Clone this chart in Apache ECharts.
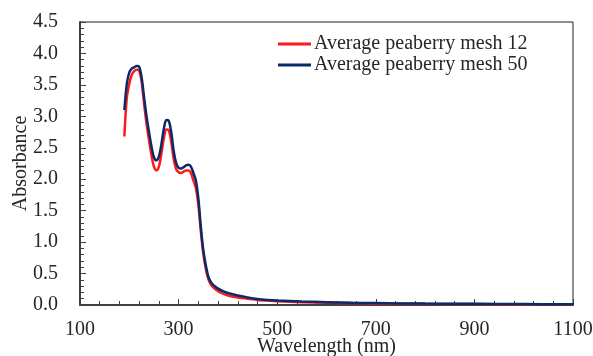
<!DOCTYPE html>
<html>
<head>
<meta charset="utf-8">
<script src="https://cdn.jsdelivr.net/npm/echarts@6/dist/echarts.min.js"></script>
<style>
  html, body { margin: 0; padding: 0; background: #fff; }
  #chart { width: 593px; height: 356px; }
</style>
</head>
<body>
<div id="chart"></div>
<script>
// wavelengths (nm)
var wavelength = [190,195,200,205,210,215,220,225,230,235,240,245,250,255,260,265,270,275,280,285,290,295,300,305,310,315,320,325,330,335,340,345,350,355,360,365,370,380,390,400,420,440,460,480,500,550,600,650,700,800,900,1000,1100];

// absorbance, mesh 12 (red)
var mesh12 = [2.68,3.30,3.52,3.66,3.72,3.74,3.73,3.55,3.20,2.88,2.62,2.38,2.20,2.14,2.20,2.40,2.65,2.79,2.78,2.60,2.32,2.16,2.11,2.10,2.12,2.14,2.14,2.10,1.98,1.86,1.60,1.18,0.82,0.58,0.42,0.33,0.28,0.22,0.18,0.15,0.12,0.10,0.08,0.07,0.06,0.045,0.035,0.03,0.025,0.018,0.014,0.011,0.009];

// absorbance, mesh 50 (navy)
var mesh50 = [3.10,3.52,3.70,3.76,3.78,3.80,3.79,3.62,3.30,3.00,2.75,2.52,2.35,2.30,2.36,2.55,2.80,2.94,2.93,2.75,2.45,2.26,2.18,2.17,2.19,2.22,2.23,2.20,2.10,1.98,1.70,1.25,0.88,0.64,0.46,0.37,0.32,0.26,0.22,0.19,0.15,0.12,0.095,0.08,0.07,0.055,0.045,0.035,0.03,0.022,0.018,0.014,0.012];

var seriesNames = ['Average peaberry mesh 12', 'Average peaberry mesh 50'];

function pairs(xs, ys) {
    return xs.map(function (x, i) { return [x, ys[i]]; });
}

var font = 'Liberation Serif';
var txt = '#262626';

var myChart = echarts.init(document.getElementById('chart'));

var option = {
    animation: false,
    textStyle: { fontFamily: font },
    grid: {
        left: 80, right: 20, top: 22, bottom: 51,
        containLabel: false,
        outerBoundsMode: 'none',
        show: true, borderColor: '#222', borderWidth: 1
    },
    legend: {
        data: seriesNames,
        orient: 'vertical',
        left: 278, top: 34,
        padding: 0,
        icon: 'rect',
        itemWidth: 33, itemHeight: 3,
        itemGap: 1,
        textStyle: { fontFamily: font, fontSize: 20, color: txt, lineHeight: 20, padding: [0, 0, 0, -2] }
    },
    xAxis: {
        type: 'value',
        min: 100, max: 1100, interval: 200,
        name: 'Wavelength (nm)',
        nameLocation: 'middle',
        nameGap: 32,
        nameMoveOverlap: false,
        nameTextStyle: { fontFamily: font, fontSize: 20, color: txt },
        axisLine: { lineStyle: { color: '#404040', width: 2 } },
        axisTick: { inside: true, length: 6, lineStyle: { color: '#404040' } },
        minorTick: { show: true, splitNumber: 5, length: 4, lineStyle: { color: '#404040' } },
        splitLine: { show: false },
        axisLabel: {
            fontFamily: font, fontSize: 20, color: txt, margin: 15,
            formatter: function (v) { return String(v); }
        }
    },
    yAxis: {
        type: 'value',
        min: 0, max: 4.5, interval: 0.5,
        name: 'Absorbance',
        nameLocation: 'middle',
        nameRotate: 90,
        nameGap: 49,
        nameMoveOverlap: false,
        nameTextStyle: { fontFamily: font, fontSize: 20, color: txt },
        axisLine: { show: true, lineStyle: { color: '#404040', width: 2 } },
        axisTick: { show: true, inside: true, length: 6, lineStyle: { color: '#404040' } },
        minorTick: { show: true, splitNumber: 5, length: 4, lineStyle: { color: '#404040' } },
        splitLine: { show: false },
        axisLabel: {
            fontFamily: font, fontSize: 20, color: txt, margin: 22,
            formatter: function (v) { return v.toFixed(1); }
        }
    },
    series: [
        {
            name: seriesNames[0],
            type: 'line',
            data: pairs(wavelength, mesh12),
            showSymbol: false,
            smooth: 0.3,
            color: '#ff1a1a',
            lineStyle: { width: 2.5, color: '#ff1a1a' }
        },
        {
            name: seriesNames[1],
            type: 'line',
            data: pairs(wavelength, mesh50),
            showSymbol: false,
            smooth: 0.3,
            color: '#0b2a6b',
            lineStyle: { width: 2.5, color: '#0b2a6b' }
        }
    ]
};

myChart.setOption(option);
</script>
</body>
</html>
